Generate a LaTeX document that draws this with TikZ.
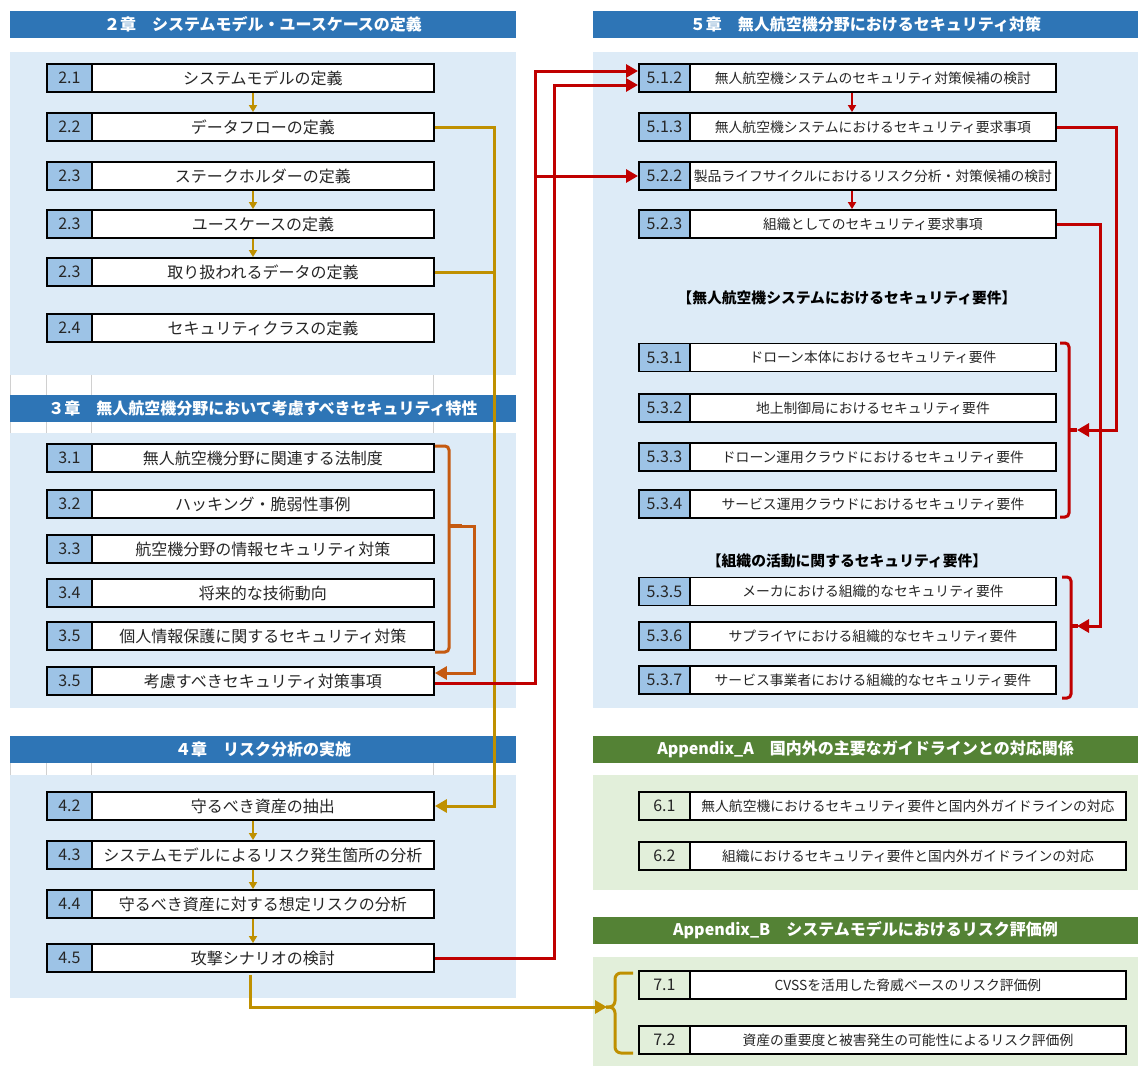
\documentclass[tikz,border=0pt]{standalone}
\usepackage{fontspec}
\setmainfont{Noto Sans CJK JP}
\usetikzlibrary{arrows.meta}

\definecolor{hdrblue}{HTML}{2E75B6}
\definecolor{panelblue}{HTML}{DDEBF7}
\definecolor{cellblue}{HTML}{9DC3E6}
\definecolor{hdrgreen}{HTML}{548235}
\definecolor{panelgreen}{HTML}{E2EFDA}
\definecolor{linkgold}{HTML}{BF9000}
\definecolor{linkorange}{HTML}{C55A11}
\definecolor{linkred}{HTML}{C00000}
\definecolor{ink}{HTML}{262626}
\definecolor{gridgrey}{HTML}{D0D0D0}

\tikzset{
  cell/.style={draw=black, line width=1.9pt, inner sep=0pt, minimum height=28pt,
    anchor=west, text=ink},
  numL/.style={cell, fill=cellblue, minimum width=45pt, font=\fontsize{16}{16}\selectfont},
  txtL/.style={cell, fill=white, minimum width=342pt, font=\fontsize{16}{16}\selectfont},
  numR/.style={cell, fill=cellblue, minimum width=51pt, font=\fontsize{16}{16}\selectfont},
  txtR/.style={cell, fill=white, minimum width=366pt, font=\fontsize{13.8}{13.8}\selectfont},
  numA/.style={numR, fill=panelgreen},
  txtA/.style={txtR, minimum width=436pt},
  header/.style={inner sep=0pt, minimum height=27pt, text=white,
    font=\bfseries\fontsize{16}{16}\selectfont},
  hdrL/.style={header, fill=hdrblue, minimum width=506pt},
  hdrR/.style={header, minimum width=545pt},
  subhead/.style={inner sep=0pt, text=black, font=\bfseries\fontsize{14.8}{14.8}\selectfont},
  link/.style={line width=3pt, -{Triangle[length=12pt,width=13pt]}},
  stepdown/.style={line width=2pt, -{Triangle[length=7pt,width=8pt]}},
  bracket/.style={line width=3pt, rounded corners=4pt},
  gridline/.style={gridgrey, line width=0.8pt},
}

% left-column entry: name, centre y, number, title
\newcommand\rowL[4]{%
  \node[numL] (#1n) at (46,#2) {#3};
  \node[txtL] (#1) at (91,#2) {#4};}
% right-column entry (chapter 5)
\newcommand\rowR[4]{%
  \node[numR] (#1n) at (638,#2) {#3};
  \node[txtR] (#1) at (689,#2) {#4};}
% right-column entry (appendices)
\newcommand\rowA[4]{%
  \node[numA] (#1n) at (638,#2) {#3};
  \node[txtA] (#1) at (689,#2) {#4};}

\begin{document}
\begin{tikzpicture}[x=1pt, y=-1pt]
\useasboundingbox (0,0) rectangle (1138,1066);

% ---------- panels ----------
\fill[panelblue] (10,52) rectangle (516,375);
\fill[panelblue] (10,433) rectangle (516,708);
\fill[panelblue] (10,775) rectangle (516,998);
\fill[panelblue] (593,52) rectangle (1138,708);
\fill[panelgreen] (593,775) rectangle (1138,890);
\fill[panelgreen] (593,957) rectangle (1138,1066);

% sheet grid showing between the left blocks
\foreach \gx in {10,46,91,433} {
  \draw[gridline] (\gx,375) -- (\gx,395);
  \draw[gridline] (\gx,422) -- (\gx,433);
  \draw[gridline] (\gx,763) -- (\gx,775);
}

% ---------- headers ----------
\node[hdrL] (h2) at (263,24.5) {２章　システムモデル・ユースケースの定義};
\node[hdrL] (h3) at (263,408.5) {３章　無人航空機分野において考慮すべきセキュリティ特性};
\node[hdrL] (h4) at (263,749) {４章　リスク分析の実施};
\node[hdrR, fill=hdrblue] (h5) at (865.5,24.5) {５章　無人航空機分野におけるセキュリティ対策};
\node[hdrR, fill=hdrgreen] (hA) at (865.5,749) {Appendix\_A　国内外の主要なガイドラインとの対応関係};
\node[hdrR, fill=hdrgreen] (hB) at (865.5,930.5) {Appendix\_B　システムモデルにおけるリスク評価例};

% ---------- chapter 2 ----------
\rowL{n21}{78}{2.1}{システムモデルの定義}
\rowL{n22}{127}{2.2}{データフローの定義}
\rowL{n23a}{176}{2.3}{ステークホルダーの定義}
\rowL{n23b}{224}{2.3}{ユースケースの定義}
\rowL{n23c}{272}{2.3}{取り扱われるデータの定義}
\rowL{n24}{328}{2.4}{セキュリティクラスの定義}

% ---------- chapter 3 ----------
\rowL{n31}{458}{3.1}{無人航空機分野に関連する法制度}
\rowL{n32}{504}{3.2}{ハッキング・脆弱性事例}
\rowL{n33}{549}{3.3}{航空機分野の情報セキュリティ対策}
\rowL{n34}{593}{3.4}{将来的な技術動向}
\rowL{n35a}{636}{3.5}{個人情報保護に関するセキュリティ対策}
\rowL{n35b}{681}{3.5}{考慮すべきセキュリティ対策事項}

% ---------- chapter 4 ----------
\rowL{n42}{806}{4.2}{守るべき資産の抽出}
\rowL{n43}{855}{4.3}{システムモデルによるリスク発生箇所の分析}
\rowL{n44}{904}{4.4}{守るべき資産に対する想定リスクの分析}
\rowL{n45}{958}{4.5}{攻撃シナリオの検討}

% ---------- chapter 5 ----------
\rowR{n512}{78}{5.1.2}{無人航空機システムのセキュリティ対策候補の検討}
\rowR{n513}{127}{5.1.3}{無人航空機システムにおけるセキュリティ要求事項}
\rowR{n522}{176}{5.2.2}{製品ライフサイクルにおけるリスク分析・対策候補の検討}
\rowR{n523}{224}{5.2.3}{組織としてのセキュリティ要求事項}

\node[subhead] (sub1) at (847,298) {【無人航空機システムにおけるセキュリティ要件】};
\rowR{n531}{357.5}{5.3.1}{ドローン本体におけるセキュリティ要件}
\rowR{n532}{408}{5.3.2}{地上制御局におけるセキュリティ要件}
\rowR{n533}{457}{5.3.3}{ドローン運用クラウドにおけるセキュリティ要件}
\rowR{n534}{504}{5.3.4}{サービス運用クラウドにおけるセキュリティ要件}

\node[subhead] (sub2) at (847,561) {【組織の活動に関するセキュリティ要件】};
\rowR{n535}{591.5}{5.3.5}{メーカにおける組織的なセキュリティ要件}
\rowR{n536}{636}{5.3.6}{サプライヤにおける組織的なセキュリティ要件}
\rowR{n537}{680}{5.3.7}{サービス事業者における組織的なセキュリティ要件}

% ---------- appendices ----------
\rowA{n61}{806}{6.1}{無人航空機におけるセキュリティ要件と国内外ガイドラインの対応}
\rowA{n62}{856}{6.2}{組織におけるセキュリティ要件と国内外ガイドラインの対応}
\rowA{n71}{985}{7.1}{CVSSを活用した脅威ベースのリスク評価例}
\rowA{n72}{1040}{7.2}{資産の重要度と被害発生の可能性によるリスク評価例}

% ---------- routing columns ----------
\coordinate (sxL) at (253,0);
\coordinate (sxR) at (852,0);
\coordinate (gbus) at (494,0);
\coordinate (obus) at (474,0);
\coordinate (rbusA) at (535,0);
\coordinate (rbusB) at (554,0);
\coordinate (rbusC) at (1116,0);
\coordinate (rbusD) at (1100,0);

% ---------- step arrows ----------
\draw[stepdown, linkgold] (n21.south -| sxL) -- (n22.north -| sxL);
\draw[stepdown, linkgold] (n23a.south -| sxL) -- (n23b.north -| sxL);
\draw[stepdown, linkgold] (n23b.south -| sxL) -- (n23c.north -| sxL);
\draw[stepdown, linkgold] (n42.south -| sxL) -- (n43.north -| sxL);
\draw[stepdown, linkgold] (n43.south -| sxL) -- (n44.north -| sxL);
\draw[stepdown, linkgold] (n44.south -| sxL) -- (n45.north -| sxL);
\draw[stepdown, linkred] (n512.south -| sxR) -- (n513.north -| sxR);
\draw[stepdown, linkred] (n522.south -| sxR) -- (n523.north -| sxR);

% ---------- chapter 2 to chapter 4 ----------
\draw[link, linkgold] (n22.east) -- (n22.east -| gbus) -- (n42.east -| gbus) -- (n42.east);
\draw[line width=3pt, linkgold] (n23c.east) -- (n23c.east -| gbus);

% ---------- chapter 3 bracket ----------
\draw[bracket, linkorange] (435,446) -- (449,446) -- (449,652) -- (435,652);
\draw[line width=3.4pt, linkorange] (449,526) -- (462,526);
\coordinate (brO) at (449,526);
\draw[link, linkorange] (brO) -- (brO -| obus) -- ([yshift=8pt]n35b.east -| obus) -- ([yshift=8pt]n35b.east);

% ---------- into chapter 5 ----------
\draw[link, linkred] ([yshift=-2pt]n35b.east) -- ([yshift=-2pt]n35b.east -| rbusA)
  -- ([yshift=7pt]n512n.west -| rbusA) -- ([yshift=7pt]n512n.west);
\draw[link, linkred] (n522n.west -| rbusA) -- (n522n.west);
\draw[link, linkred] (n45.east) -- (n45.east -| rbusB)
  -- ([yshift=-7pt]n512n.west -| rbusB) -- ([yshift=-7pt]n512n.west);

% ---------- requirement brackets ----------
\draw[bracket, linkred] (1060,343) -- (1069,343) -- (1069,517) -- (1060,517);
\draw[line width=3.4pt, linkred] (1069,430) -- (1077,430);
\coordinate (brA) at (1077,430);
\draw[link, linkred] (n513.east) -- (n513.east -| rbusC) -- (brA -| rbusC) -- (brA);

\draw[bracket, linkred] (1062,577) -- (1071,577) -- (1071,698) -- (1062,698);
\draw[line width=3.4pt, linkred] (1071,626) -- (1078,626);
\coordinate (brB) at (1077,626);
\draw[link, linkred] (n523.east) -- (n523.east -| rbusD) -- (brB -| rbusD) -- (brB);

% ---------- chapter 4 to appendix B ----------
\draw[bracket, linkgold, rounded corners=6pt] (633,973) -- (615,973) -- (615,1007) -- (606,1007);
\draw[bracket, linkgold, rounded corners=6pt] (606,1007) -- (615,1007) -- (615,1053) -- (633,1053);
\coordinate (g0) at (250,975);
\coordinate (brG) at (607,1007);
\draw[link, linkgold] (g0) |- (brG);

\end{tikzpicture}
\end{document}
